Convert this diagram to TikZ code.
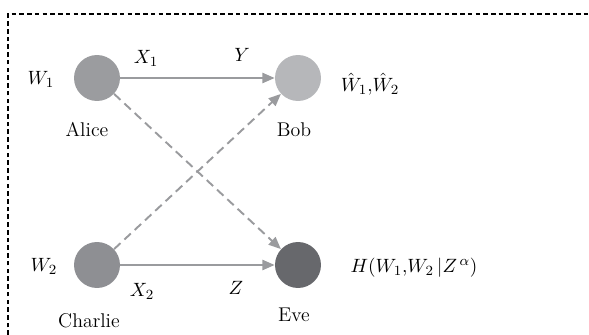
\documentclass[tikz,border=0pt]{standalone}
\usetikzlibrary{arrows.meta}

\definecolor{aliceGray}{HTML}{9B9C9F}
\definecolor{bobGray}{HTML}{B6B7BA}
\definecolor{charlieGray}{HTML}{8E8F93}
\definecolor{eveGray}{HTML}{67686C}
\definecolor{edgeGray}{HTML}{9A9B9E}

\begin{document}
\begin{tikzpicture}[
    x=0.02cm, y=-0.02cm,
    every node/.style={font=\fontsize{11.3}{13}\selectfont},
    vertex/.style={circle, minimum size=0.92cm, inner sep=0pt},
    edge/.style={draw=edgeGray, line width=1.1pt, -{Triangle[length=7pt,width=5.8pt]}},
    link/.style={edge, dash pattern=on 5pt off 3pt}
]
\useasboundingbox (0,0) rectangle (589,335);

% frame
\draw[line width=0.6pt, dash pattern=on 2.6pt off 1.8pt] (8,335) -- (8,14) -- (589,14);

\node[vertex, fill=aliceGray] (alice) at (97,78) {};
\node[vertex, fill=bobGray] (bob) at (298,78) {};
\node[vertex, fill=charlieGray] (charlie) at (97,265) {};
\node[vertex, fill=eveGray] (eve) at (298,265) {};

\node (w1) at (41,79) {$W_1$};
\node (w2) at (44,266) {$W_2$};
\node (wh) at (370,84) {$\hat{W}_1{,}\hat{W}_2$};
\node (h) at (414,268) {$H(W_1{,}W_2\,|Z^{\,\alpha})$};

\node (nA) at (87,130) {Alice};
\node (nB) at (294,130) {Bob};
\node (nC) at (89,321) {Charlie};
\node (nE) at (294,315) {Eve};

\node (x1) at (146,58) {$X_1$};
\node (y) at (242,55) {$Y$};
\node (x2) at (142,291) {$X_2$};
\node (z) at (236,288) {$Z$};

\draw[edge] (alice) -- (bob);
\draw[edge] (charlie) -- (eve);
\draw[link] (alice) -- (eve);
\draw[link] (charlie) -- (bob);

\end{tikzpicture}
\end{document}
